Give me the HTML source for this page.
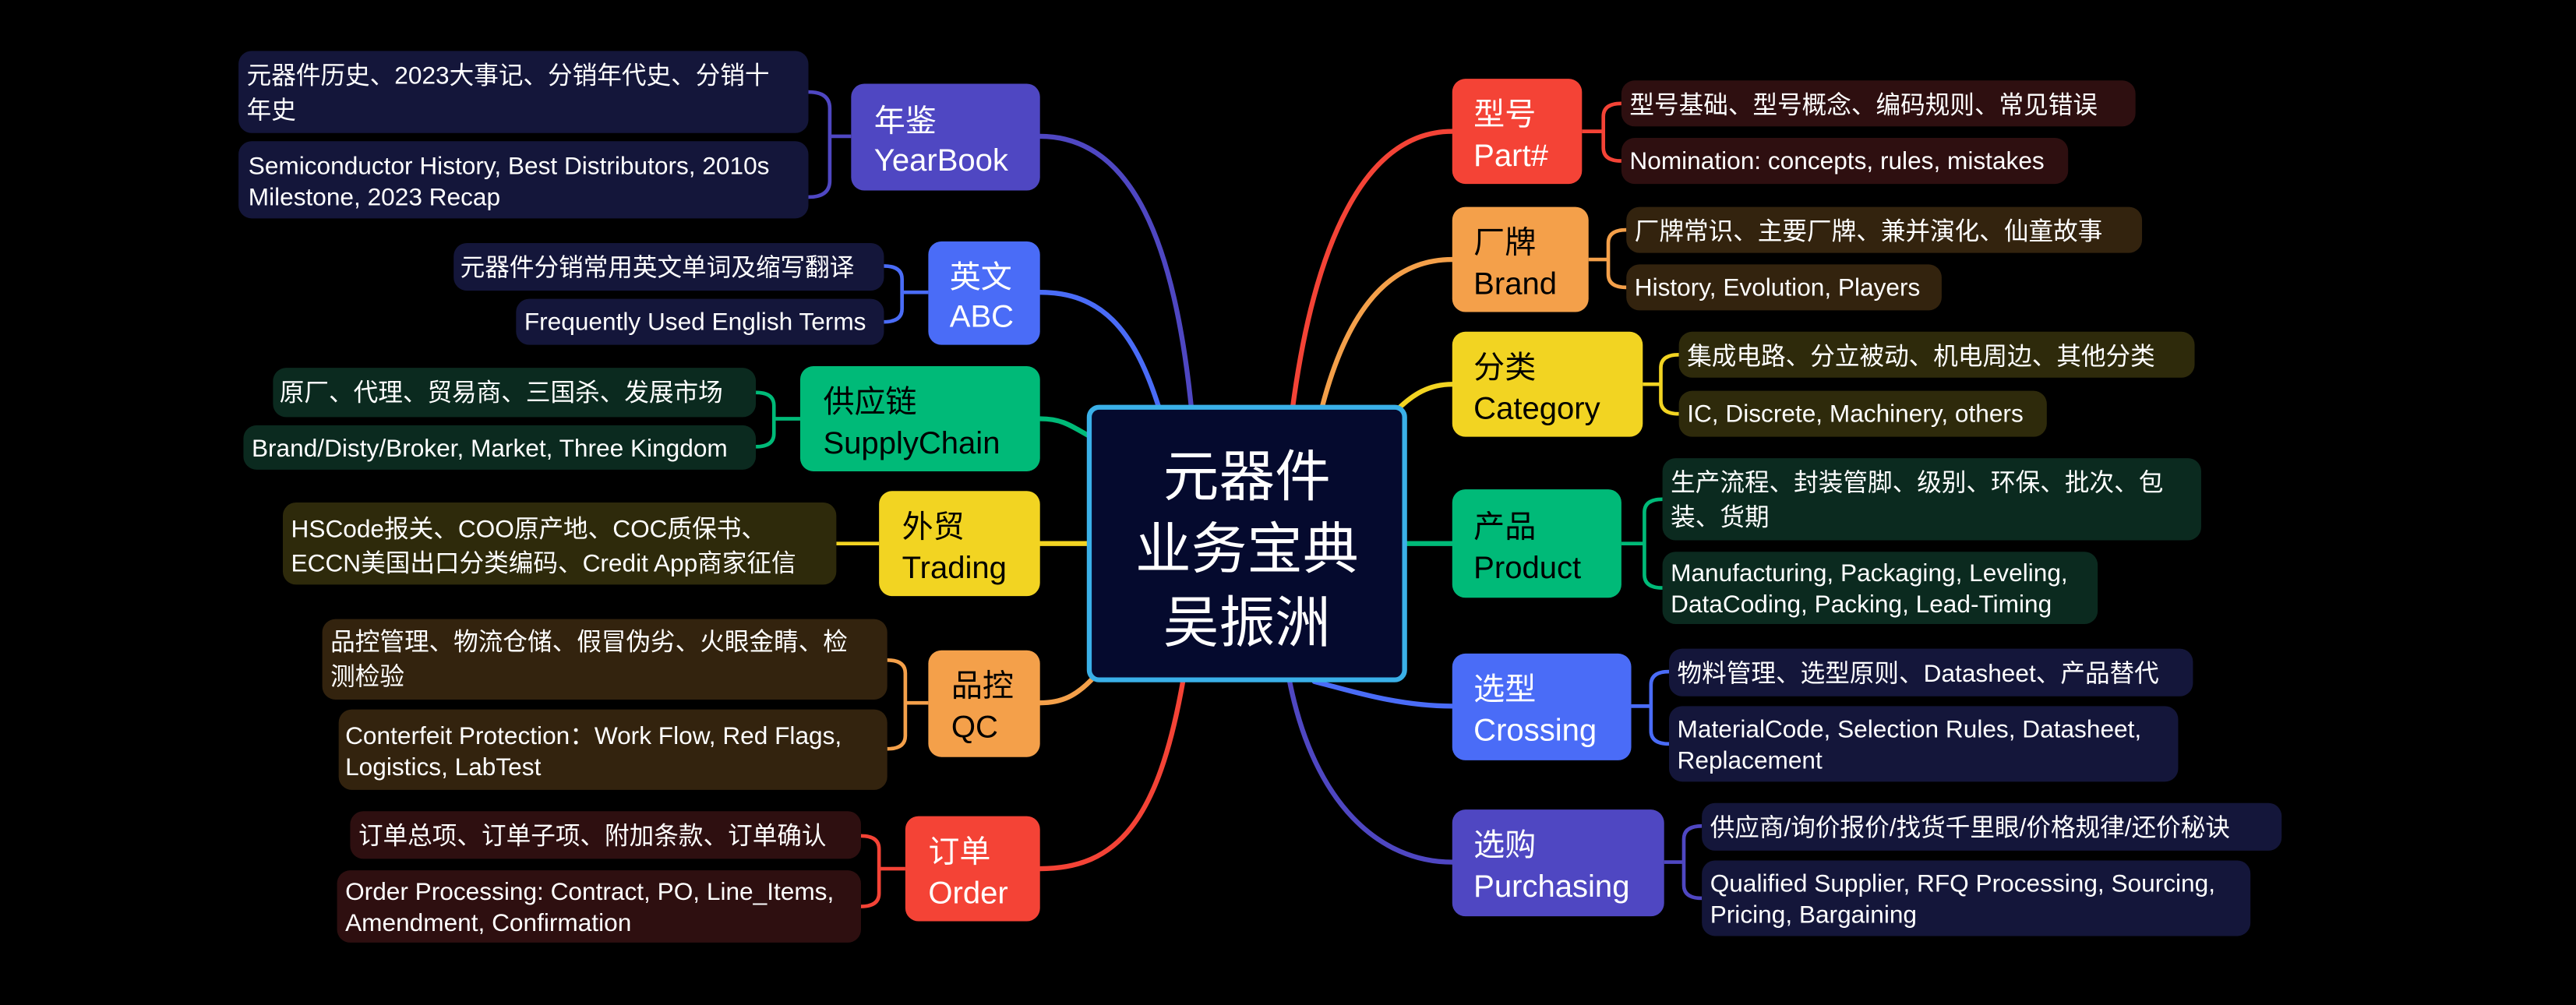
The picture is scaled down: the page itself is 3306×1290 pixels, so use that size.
<!DOCTYPE html>
<html><head><meta charset="utf-8"><style>
html,body{margin:0;padding:0;background:#000;}
svg{display:block}
text{font-family:"Liberation Sans","Noto Sans CJK SC",sans-serif;}
</style></head><body>
<svg width="3306" height="1290" viewBox="0 0 1568 612" xmlns="http://www.w3.org/2000/svg">
<rect width="1568" height="612" fill="#000"/>
<g fill="none" stroke-width="3" stroke-linecap="round">
<path d="M725,247 C715,150 690,83 633,83" stroke="#4f47c2"/>
<path d="M705,247 C690,200 670,178 633,178" stroke="#4a6cf7"/>
<path d="M662,265 C650,258 645,255 633,255" stroke="#00ba78"/>
<path d="M662,331 H633" stroke="#f2d422"/>
<path d="M668,410 C655,425 645,428 633,428" stroke="#f4a04a"/>
<path d="M720,415 C705,500 680,529 633,529" stroke="#f44336"/>
<path d="M787,247 C800,150 830,80 884,80" stroke="#f44336"/>
<path d="M805,247 C820,190 845,158 884,158" stroke="#f4a04a"/>
<path d="M850,250 C860,240 870,234 884,234" stroke="#f2d422"/>
<path d="M856,331 H884" stroke="#00ba78"/>
<path d="M800,415 C820,420 850,430 884,430" stroke="#4a6cf7"/>
<path d="M785,415 C800,490 840,525 884,525" stroke="#4f47c2"/>
</g>
<g fill="none" stroke-width="2.2">
<!-- left brackets -->
<path d="M518,83 H506 M492,56 Q505,56 505,66 V110 Q505,120 492,120" stroke="#4f47c2"/>
<path d="M565,178 H550 M538,162 Q549,162 549,170 V188 Q549,196 538,196" stroke="#4a6cf7"/>
<path d="M487,255 H472 M460,239 Q471,239 471,247 V264 Q471,272 460,272" stroke="#00ba78"/>
<path d="M535,331 H509" stroke="#f2d422"/>
<path d="M565,428 H552 M540,402 Q551,402 551,410 V448 Q551,456 540,456" stroke="#f4a04a"/>
<path d="M551,529 H536 M524,509 Q535,509 535,517 V544 Q535,552 524,552" stroke="#f44336"/>
<!-- right brackets -->
<path d="M963,80 H975 M987,63 Q976,63 976,71 V90 Q976,98 987,98" stroke="#f44336"/>
<path d="M967,158 H978 M990,140 Q979,140 979,148 V167 Q979,175 990,175" stroke="#f4a04a"/>
<path d="M1000,234 H1010 M1022,216 Q1011,216 1011,224 V244 Q1011,252 1022,252" stroke="#f2d422"/>
<path d="M987,331 H1000 M1012,304 Q1001,304 1001,312 V350 Q1001,358 1012,358" stroke="#00ba78"/>
<path d="M993,430 H1004 M1016,409 Q1005,409 1005,417 V445 Q1005,453 1016,453" stroke="#4a6cf7"/>
<path d="M1013,525 H1024 M1036,503 Q1025,503 1025,511 V539 Q1025,547 1036,547" stroke="#4f47c2"/>
</g>
<!-- center -->
<rect x="663" y="248" width="192" height="166" rx="6" fill="#050a2e" stroke="#3ab0e8" stroke-width="3"/>
<g fill="#fff" font-size="34" text-anchor="middle">
<text x="759" y="302">元器件</text>
<text x="759" y="346">业务宝典</text>
<text x="759" y="391">吴振洲</text>
</g>
<!-- main nodes -->
<g font-size="19">
<rect x="518" y="51" width="115" height="65" rx="8" fill="#4f47c2"/>
<text x="532" y="80" fill="#fff">年鉴</text><text x="532" y="104" fill="#fff">YearBook</text>
<rect x="565" y="147" width="68" height="63" rx="8" fill="#4a6cf7"/>
<text x="578" y="175" fill="#fff">英文</text><text x="578" y="199" fill="#fff">ABC</text>
<rect x="487" y="223" width="146" height="64" rx="8" fill="#00ba78"/>
<text x="501" y="251" fill="#000">供应链</text><text x="501" y="276" fill="#000">SupplyChain</text>
<rect x="535" y="299" width="98" height="64" rx="8" fill="#f2d422"/>
<text x="549" y="327" fill="#000">外贸</text><text x="549" y="352" fill="#000">Trading</text>
<rect x="565" y="396" width="68" height="65" rx="8" fill="#f4a04a"/>
<text x="579" y="424" fill="#000">品控</text><text x="579" y="449" fill="#000">QC</text>
<rect x="551" y="497" width="82" height="64" rx="8" fill="#f44336"/>
<text x="565" y="525" fill="#fff">订单</text><text x="565" y="550" fill="#fff">Order</text>

<rect x="884" y="48" width="79" height="64" rx="8" fill="#f44336"/>
<text x="897" y="76" fill="#fff">型号</text><text x="897" y="101" fill="#fff">Part#</text>
<rect x="884" y="126" width="83" height="64" rx="8" fill="#f4a04a"/>
<text x="897" y="154" fill="#000">厂牌</text><text x="897" y="179" fill="#000">Brand</text>
<rect x="884" y="202" width="116" height="64" rx="8" fill="#f2d422"/>
<text x="897" y="230" fill="#000">分类</text><text x="897" y="255" fill="#000">Category</text>
<rect x="884" y="298" width="103" height="66" rx="8" fill="#00ba78"/>
<text x="897" y="327" fill="#000">产品</text><text x="897" y="352" fill="#000">Product</text>
<rect x="884" y="398" width="109" height="65" rx="8" fill="#4a6cf7"/>
<text x="897" y="426" fill="#fff">选型</text><text x="897" y="451" fill="#fff">Crossing</text>
<rect x="884" y="493" width="129" height="65" rx="8" fill="#4f47c2"/>
<text x="897" y="521" fill="#fff">选购</text><text x="897" y="546" fill="#fff">Purchasing</text>
</g>
<!-- children -->
<g font-size="15" fill="#fff">
<rect x="145" y="31" width="347" height="50" rx="8" fill="#14163a"/>
<text x="150" y="51">元器件历史、2023大事记、分销年代史、分销十</text><text x="150" y="72">年史</text>
<rect x="145" y="86" width="347" height="47" rx="8" fill="#14163a"/>
<text x="151" y="106">Semiconductor History, Best Distributors, 2010s</text><text x="151" y="125">Milestone, 2023 Recap</text>
<rect x="276" y="148" width="262" height="29" rx="8" fill="#14163a"/>
<text x="280" y="168">元器件分销常用英文单词及缩写翻译</text>
<rect x="314" y="182" width="224" height="28" rx="8" fill="#14163a"/>
<text x="319" y="201">Frequently Used English Terms</text>
<rect x="166" y="224" width="294" height="30" rx="8" fill="#0b2a1f"/>
<text x="170" y="244">原厂、代理、贸易商、三国杀、发展市场</text>
<rect x="148" y="259" width="312" height="27" rx="8" fill="#0b2a1f"/>
<text x="153" y="278">Brand/Disty/Broker, Market, Three Kingdom</text>
<rect x="172" y="306" width="337" height="50" rx="8" fill="#2e2a0b"/>
<text x="177" y="327">HSCode报关、COO原产地、COC质保书、</text><text x="177" y="348">ECCN美国出口分类编码、Credit App商家征信</text>
<rect x="196" y="377" width="344" height="49" rx="8" fill="#33230e"/>
<text x="201" y="396">品控管理、物流仓储、假冒伪劣、火眼金睛、检</text><text x="201" y="417">测检验</text>
<rect x="206" y="432" width="334" height="49" rx="8" fill="#33230e"/>
<text x="210" y="453">Conterfeit Protection：Work Flow, Red Flags,</text><text x="210" y="472">Logistics, LabTest</text>
<rect x="213" y="494" width="311" height="29" rx="8" fill="#2e0f10"/>
<text x="218" y="514">订单总项、订单子项、附加条款、订单确认</text>
<rect x="205" y="530" width="319" height="44" rx="8" fill="#2e0f10"/>
<text x="210" y="548">Order Processing: Contract, PO, Line_Items,</text><text x="210" y="567">Amendment, Confirmation</text>

<rect x="987" y="49" width="313" height="28" rx="8" fill="#2e0f10"/>
<text x="992" y="69">型号基础、型号概念、编码规则、常见错误</text>
<rect x="987" y="84" width="272" height="28" rx="8" fill="#2e0f10"/>
<text x="992" y="103">Nomination: concepts, rules, mistakes</text>
<rect x="990" y="126" width="314" height="28" rx="8" fill="#33230e"/>
<text x="995" y="146">厂牌常识、主要厂牌、兼并演化、仙童故事</text>
<rect x="990" y="161" width="192" height="28" rx="8" fill="#33230e"/>
<text x="995" y="180">History, Evolution, Players</text>
<rect x="1022" y="202" width="314" height="28" rx="8" fill="#2e2a0b"/>
<text x="1027" y="222">集成电路、分立被动、机电周边、其他分类</text>
<rect x="1022" y="238" width="224" height="28" rx="8" fill="#2e2a0b"/>
<text x="1027" y="257">IC, Discrete, Machinery, others</text>
<rect x="1012" y="279" width="328" height="50" rx="8" fill="#0b2a1f"/>
<text x="1017" y="299">生产流程、封装管脚、级别、环保、批次、包</text><text x="1017" y="320">装、货期</text>
<rect x="1012" y="336" width="265" height="44" rx="8" fill="#0b2a1f"/>
<text x="1017" y="354">Manufacturing, Packaging, Leveling,</text><text x="1017" y="373">DataCoding, Packing, Lead-Timing</text>
<rect x="1016" y="395" width="319" height="29" rx="8" fill="#14163a"/>
<text x="1021" y="415">物料管理、选型原则、Datasheet、产品替代</text>
<rect x="1016" y="430" width="310" height="46" rx="8" fill="#14163a"/>
<text x="1021" y="449">MaterialCode, Selection Rules, Datasheet,</text><text x="1021" y="468">Replacement</text>
<rect x="1036" y="489" width="353" height="29" rx="8" fill="#14163a"/>
<text x="1041" y="509">供应商/询价报价/找货千里眼/价格规律/还价秘诀</text>
<rect x="1036" y="524" width="334" height="46" rx="8" fill="#14163a"/>
<text x="1041" y="543">Qualified Supplier, RFQ Processing, Sourcing,</text><text x="1041" y="562">Pricing, Bargaining</text>
</g>
</svg>
</body></html>
